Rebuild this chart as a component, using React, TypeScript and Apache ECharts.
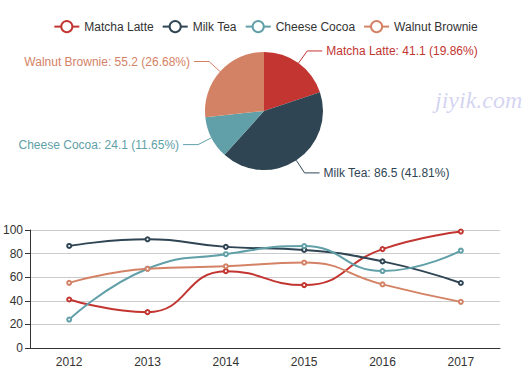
import React, { useEffect, useRef } from "react";
import * as echarts from "echarts";

const years = ["2012", "2013", "2014", "2015", "2016", "2017"];
const products = ["Matcha Latte", "Milk Tea", "Cheese Cocoa", "Walnut Brownie"];
const matchaLatte = [41.1, 30.4, 65.1, 53.3, 83.8, 98.7];
const milkTea = [86.5, 92.1, 85.7, 83.1, 73.4, 55.1];
const cheeseCocoa = [24.1, 67.2, 79.5, 86.4, 65.2, 82.5];
const walnutBrownie = [55.2, 67.1, 69.2, 72.4, 53.9, 39.1];
const colors = ["#c23531", "#2f4554", "#61a0a8", "#d48265"];

const PIE_CX = 264;
const PIE_CY = 111;
const PIE_R = 59;

export default function App() {
  const ref = useRef<HTMLDivElement>(null);
  useEffect(() => {
    if (!ref.current) return;
    document.body.style.margin = "0";
    const chart = echarts.init(ref.current, null, { renderer: "svg" });
    const rows = [matchaLatte, milkTea, cheeseCocoa, walnutBrownie];
    const source: (string | number)[][] = [["product", ...years]];
    products.forEach((p, i) => source.push([p, ...rows[i]]));
    const pieVals = rows.map((r) => r[0]);
    const total = pieVals.reduce((a, b) => a + b, 0);
    const font = "Liberation Sans, Arial, sans-serif";
    chart.setOption({
      animation: false,
      color: colors,
      textStyle: { fontFamily: font },
      legend: {
        top: 15,
        textStyle: { color: "#333", fontSize: 12, fontFamily: font },
      },
      graphic: [
        {
          type: "text",
          left: 435,
          top: 88,
          style: {
            text: "jiyik.com",
            font: "italic 24px 'Liberation Serif', serif",
            fill: "rgba(175,175,230,0.55)",
          },
        },
      ],
      dataset: { source },
      xAxis: {
        type: "category",
        axisLine: { lineStyle: { color: "#333" } },
        axisLabel: { color: "#333", fontSize: 12, fontFamily: font },
      },
      yAxis: {
        gridIndex: 0,
        min: 0,
        max: 100,
        interval: 20,
        axisLine: { show: true, lineStyle: { color: "#333" } },
        axisTick: { show: true },
        axisLabel: { color: "#333", fontSize: 12, fontFamily: font, margin: 7 },
        splitLine: { lineStyle: { color: "#ccc" } },
      },
      grid: { left: 27, right: 31, top: 230, bottom: 29 },
      series: [
        ...products.map(() => ({
          type: "line",
          smooth: true,
          seriesLayoutBy: "row",
          symbol: "emptyCircle",
          symbolSize: 4,
          lineStyle: { width: 2 },
        })),
        {
          type: "pie",
          id: "pie",
          radius: PIE_R,
          center: [PIE_CX, PIE_CY],
          encode: { itemName: "product", value: "2012", tooltip: "2012" },
          label: {
            formatter: "{b}: {@2012} ({d}%)",
            fontSize: 12,
            fontFamily: font,
            color: "inherit",
          },
          labelLine: { length: 15, length2: 15 },
          labelLayout: (params: any) => {
            const i = params.dataIndex;
            let cum = 0;
            for (let k = 0; k < i; k++) cum += pieVals[k];
            const a = (2 * Math.PI * (cum + pieVals[i] / 2)) / total;
            const dx = Math.sin(a);
            const dy = -Math.cos(a);
            const x0 = PIE_CX + dx * PIE_R;
            const y0 = PIE_CY + dy * PIE_R;
            const x1 = PIE_CX + dx * (PIE_R + 15);
            const y1 = PIE_CY + dy * (PIE_R + 15);
            const sgn = dx < 0 ? -1 : 1;
            const x2 = x1 + sgn * 15;
            return {
              x: x2 + sgn * 4,
              y: y1,
              align: sgn < 0 ? "right" : "left",
              verticalAlign: "middle",
              labelLinePoints: [
                [x0, y0],
                [x1, y1],
                [x2, y1],
              ],
            };
          },
        },
      ],
    });
    return () => chart.dispose();
  }, []);
  return <div ref={ref} style={{ width: 531, height: 377 }} />;
}
